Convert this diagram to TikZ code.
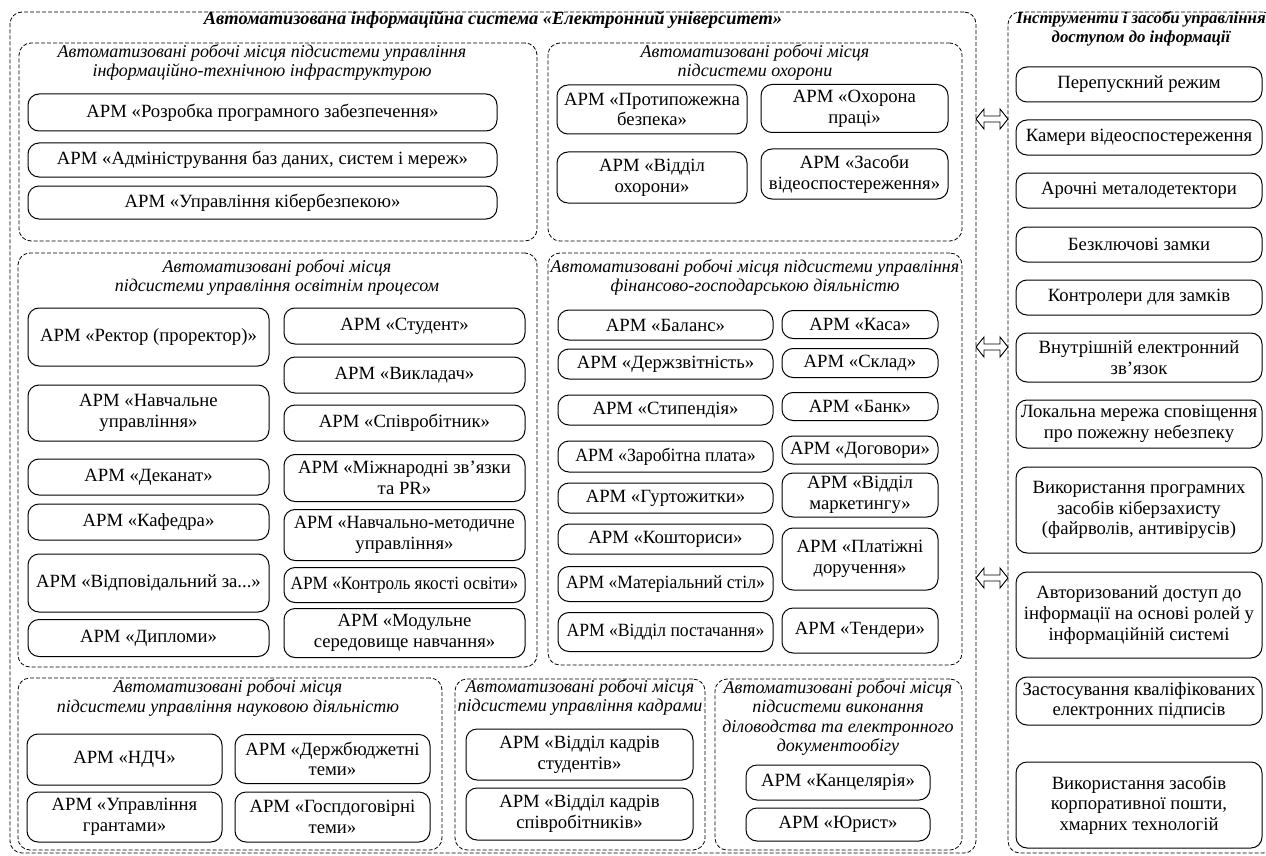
\documentclass[tikz,border=0pt]{standalone}
\usepackage{fontspec}
\setmainfont{Liberation Serif}
\usepackage{graphicx}
\newcommand{\armfont}{\fontsize{18.7}{20.7}\selectfont}
\newcommand{\grpttlfont}{\fontsize{18}{19.5}\selectfont\itshape}
\newcommand{\mainttlfont}{\fontsize{18.4}{19.5}\selectfont\bfseries\itshape}
\newcommand{\sidettlfont}{\fontsize{16.8}{18.5}\selectfont\bfseries\itshape}
\newcommand{\sq}[2]{\scalebox{#1}[1]{#2}}
\begin{document}
\begin{tikzpicture}[x=1pt,y=-1pt,
  grp/.style={draw=black, line width=0.8pt, dash pattern=on 4pt off 2pt, rounded corners=12pt, inner sep=0pt},
  arm/.style={draw=black, line width=1pt, rounded corners=11pt, align=center, inner xsep=1pt, inner ysep=1pt, font=\armfont},
  grpttl/.style={align=center, inner sep=0pt, font=\grpttlfont},
  mainttl/.style={align=center, inner sep=0pt, font=\mainttlfont},
  sidettl/.style={align=center, inner sep=0pt, font=\sidettlfont},
  blockarr/.style={draw=black, line width=0.9pt, line join=miter, fill=white}
]
\useasboundingbox (0,0) rectangle (1266,856);

% outer boxes
\node[grp, minimum width=966pt, minimum height=841pt] (M) at (493,432.5) {};
\node[mainttl] (Mt) at (493,19.5) {Автоматизована інформаційна система «Електронний університет»};
\node[grp, minimum width=267pt, minimum height=841pt] (R) at (1141.5,432.5) {};
\node[sidettl] (Rt) at (1141,29) {Інструменти і засоби управління\\доступом до інформації};

% infra
\node[grp, minimum width=518pt, minimum height=198pt] (A) at (278,142) {};
\node[grpttl] (At) at (262,62.5) {Автоматизовані робочі місця підсистеми управління\\інформаційно-технічною інфраструктурою};
\node[arm, minimum width=469pt, minimum height=37pt] (A1) at (262.5,112.5) {АРМ «Розробка програмного забезпечення»};
\node[arm, minimum width=469pt, minimum height=34pt] (A2) at (262.5,160) {АРМ «Адміністрування баз даних, систем і мереж»};
\node[arm, minimum width=469pt, minimum height=33pt] (A3) at (262.5,202.5) {АРМ «Управління кібербезпекою»};

% security
\node[grp, minimum width=414pt, minimum height=198pt] (B) at (755,142) {};
\node[grpttl] (Bt) at (755,62.5) {Автоматизовані робочі місця\\підсистеми охорони};
\node[arm, minimum width=190pt, minimum height=49pt] (B1) at (652,109.5) {АРМ «Протипожежна\\безпека»};
\node[arm, minimum width=187pt, minimum height=48pt] (B2) at (854.5,108.5) {АРМ «Охорона\\праці»};
\node[arm, minimum width=190pt, minimum height=51pt] (B3) at (652,177.5) {АРМ «Відділ\\охорони»};
\node[arm, minimum width=187pt, minimum height=50pt] (B4) at (854.5,174) {АРМ «Засоби\\відеоспостереження»};

% education
\node[grp, minimum width=519pt, minimum height=414pt] (C) at (277.5,460) {};
\node[grpttl] (Ct) at (277,277.5) {Автоматизовані робочі місця\\підсистеми управління освітнім процесом};
\node[arm, minimum width=241pt, minimum height=58pt] (C1) at (148.5,337) {АРМ «Ректор (проректор)»};
\node[arm, minimum width=241pt, minimum height=56pt] (C2) at (148.5,413) {АРМ «Навчальне\\управління»};
\node[arm, minimum width=241pt, minimum height=36pt] (C3) at (148.5,477) {АРМ «Деканат»};
\node[arm, minimum width=241pt, minimum height=36pt] (C4) at (148.5,522) {АРМ «Кафедра»};
\node[arm, minimum width=241pt, minimum height=58pt] (C5) at (148.5,583) {АРМ «Відповідальний за...»};
\node[arm, minimum width=241pt, minimum height=37pt] (C6) at (148.5,638) {АРМ «Дипломи»};
\node[arm, minimum width=241pt, minimum height=36pt] (C7) at (404.5,326) {АРМ «Студент»};
\node[arm, minimum width=241pt, minimum height=36pt] (C8) at (404.5,375) {АРМ «Викладач»};
\node[arm, minimum width=241pt, minimum height=36pt] (C9) at (404.5,423) {АРМ «Співробітник»};
\node[arm, minimum width=241pt, minimum height=47pt] (C10) at (404.5,478) {АРМ «Міжнародні зв’язки\\та PR»};
\node[arm, minimum width=241pt, minimum height=51pt] (C11) at (404.5,535) {\sq{0.96}{АРМ «Навчально-методичне}\\управління»};
\node[arm, minimum width=241pt, minimum height=35pt] (C12) at (404.5,585) {\sq{0.92}{АРМ «Контроль якості освіти»}};
\node[arm, minimum width=241pt, minimum height=49pt] (C13) at (404.5,633) {АРМ «Модульне\\середовище навчання»};

% finance
\node[grp, minimum width=414pt, minimum height=412pt] (D) at (755,459) {};
\node[grpttl] (Dt) at (755,277.5) {Автоматизовані робочі місця підсистеми управління\\фінансово-господарською діяльністю};
\node[arm, minimum width=215pt, minimum height=30pt] (D1) at (665.5,325) {АРМ «Баланс»};
\node[arm, minimum width=215pt, minimum height=30pt] (D2) at (665.5,364) {АРМ «Держзвітність»};
\node[arm, minimum width=215pt, minimum height=30pt] (D3) at (665.5,410) {АРМ «Стипендія»};
\node[arm, minimum width=215pt, minimum height=31pt] (D4) at (665.5,456.5) {\sq{0.95}{АРМ «Заробітна плата»}};
\node[arm, minimum width=215pt, minimum height=30pt] (D5) at (665.5,498) {АРМ «Гуртожитки»};
\node[arm, minimum width=215pt, minimum height=30pt] (D6) at (665.5,539) {АРМ «Кошториси»};
\node[arm, minimum width=215pt, minimum height=35pt] (D7) at (665.5,584) {\sq{0.94}{АРМ «Матеріальний стіл»}};
\node[arm, minimum width=215pt, minimum height=39pt] (D8) at (665.5,632) {\sq{0.94}{АРМ «Відділ постачання»}};
\node[arm, minimum width=156pt, minimum height=28pt] (D9) at (860,324.5) {АРМ «Каса»};
\node[arm, minimum width=156pt, minimum height=29pt] (D10) at (860,363) {АРМ «Склад»};
\node[arm, minimum width=156pt, minimum height=28pt] (D11) at (860,406.5) {АРМ «Банк»};
\node[arm, minimum width=156pt, minimum height=28pt] (D12) at (860,450) {АРМ «Договори»};
\node[arm, minimum width=156pt, minimum height=44pt] (D13) at (860,495) {АРМ «Відділ\\маркетингу»};
\node[arm, minimum width=156pt, minimum height=62pt] (D14) at (860,559) {АРМ «Платіжні\\доручення»};
\node[arm, minimum width=156pt, minimum height=45pt] (D15) at (860,630.5) {АРМ «Тендери»};

% science
\node[grp, minimum width=424pt, minimum height=172pt] (E) at (230,764) {};
\node[grpttl] (Et) at (228,698) {Автоматизовані робочі місця\\підсистеми управління науковою діяльністю};
\node[arm, minimum width=195pt, minimum height=51pt] (E1) at (124.5,759.5) {АРМ «НДЧ»};
\node[arm, minimum width=195pt, minimum height=49pt] (E2) at (332.5,759) {АРМ «Держбюджетні\\теми»};
\node[arm, minimum width=195pt, minimum height=50pt] (E3) at (124.5,817) {АРМ «Управління\\грантами»};
\node[arm, minimum width=195pt, minimum height=50pt] (E4) at (332.5,817) {АРМ «Госпдоговірні\\теми»};

% staff
\node[grp, minimum width=250pt, minimum height=171pt] (F) at (580,764.5) {};
\node[grpttl] (Ft) at (580,697.5) {Автоматизовані робочі місця\\підсистеми управління кадрами};
\node[arm, minimum width=227pt, minimum height=51pt] (F1) at (579.5,754.5) {АРМ «Відділ кадрів\\студентів»};
\node[arm, minimum width=227pt, minimum height=52pt] (F2) at (579.5,814) {АРМ «Відділ кадрів\\співробітників»};

% documents
\node[grp, minimum width=247pt, minimum height=171pt] (G) at (838.5,764.5) {};
\node[grpttl] (Gt) at (838,718) {Автоматизовані робочі місця\\підсистеми виконання\\діловодства та електронного\\документообігу};
\node[arm, minimum width=184pt, minimum height=35pt] (G1) at (838,782.5) {АРМ «Канцелярія»};
\node[arm, minimum width=184pt, minimum height=33pt] (G2) at (838,824.5) {АРМ «Юрист»};

% right column
\node[arm, minimum width=246pt, minimum height=35pt] (R1) at (1139,84.5) {Перепускний режим};
\node[arm, minimum width=246pt, minimum height=35pt] (R2) at (1139,137.5) {Камери відеоспостереження};
\node[arm, minimum width=246pt, minimum height=35pt] (R3) at (1139,190.5) {Арочні металодетектори};
\node[arm, minimum width=246pt, minimum height=35pt] (R4) at (1139,244.5) {Безключові замки};
\node[arm, minimum width=246pt, minimum height=35pt] (R5) at (1139,297.5) {Контролери для замків};
\node[arm, minimum width=246pt, minimum height=49pt] (R6) at (1139,357.5) {Внутрішній електронний\\зв’язок};
\node[arm, minimum width=246pt, minimum height=48pt] (R7) at (1139,424) {Локальна мережа сповіщення\\про пожежну небезпеку};
\node[arm, minimum width=246pt, minimum height=86pt] (R8) at (1139,510) {Використання програмних\\засобів кіберзахисту\\(файрволів, антивірусів)};
\node[arm, minimum width=246pt, minimum height=86pt] (R9) at (1139,615) {Авторизований доступ до\\інформації на основі ролей у\\інформаційній системі};
\node[arm, minimum width=246pt, minimum height=48pt] (R10) at (1139,701) {Застосування кваліфікованих\\електронних підписів};
\node[arm, minimum width=246pt, minimum height=86pt] (R11) at (1139,805) {Використання засобів\\корпоративної пошти,\\хмарних технологій};

% double block arrows between M and R
\coordinate (ar1) at (992,119);
\coordinate (ar2) at (992,347);
\coordinate (ar3) at (992,578);
\foreach \a in {ar1,ar2,ar3}{
  \draw[blockarr] (\a) ++(-16,0) -- ++(8,-10) -- ++(0,7) -- ++(16,0) -- ++(0,-7) -- ++(8,10) -- ++(-8,10) -- ++(0,-7) -- ++(-16,0) -- ++(0,7) -- cycle;
}
\end{tikzpicture}
\end{document}
